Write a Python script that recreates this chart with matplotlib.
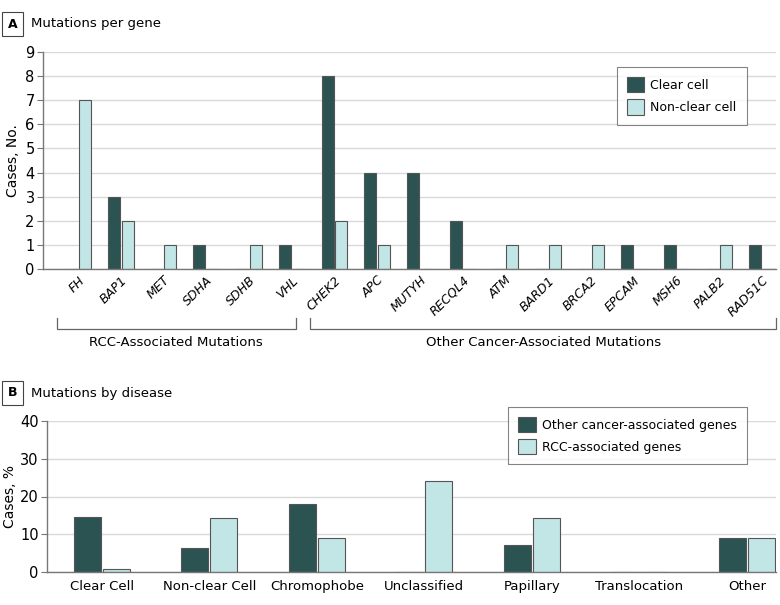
"""
Germline mutations: per gene (A) and by disease subtype (B).
"""
import numpy as np
import matplotlib.pyplot as plt

plt.rcParams['font.family'] = ['DejaVu Sans']

DARK = "#2b5352"
LIGHT = "#c2e5e5"
EDGE = "#555555"
GRID = "#d9d9d9"
AXIS = "#777777"

# ---- panel A data
genes = ["FH", "BAP1", "MET", "SDHA", "SDHB", "VHL", "CHEK2", "APC", "MUTYH",
         "RECQL4", "ATM", "BARD1", "BRCA2", "EPCAM", "MSH6", "PALB2", "RAD51C"]
clear_cell = [0, 3, 0, 1, 0, 1, 8, 4, 4, 2, 0, 0, 0, 1, 1, 0, 1]
non_clear_cell = [7, 2, 1, 0, 1, 0, 2, 1, 0, 0, 1, 1, 1, 0, 0, 1, 0]

# ---- panel B data
diseases = ["Clear Cell", "Non-clear Cell", "Chromophobe", "Unclassified",
            "Papillary", "Translocation", "Other"]
other_cancer_genes = [14.6, 6.4, 18.1, 0, 7.1, 0, 9.0]
rcc_genes = [0.9, 14.3, 9.0, 24.2, 14.2, 0, 9.0]

fig = plt.figure(figsize=(7.8, 6.05), dpi=100)


def style_axes(ax):
    for s in ["top", "right"]:
        ax.spines[s].set_visible(False)
    for s in ["left", "bottom"]:
        ax.spines[s].set_color(AXIS)
        ax.spines[s].set_linewidth(1.0)
    ax.yaxis.grid(True, color=GRID, linewidth=1.0)
    ax.set_axisbelow(True)
    ax.tick_params(axis="y", length=4, color=AXIS, labelsize=10.5, pad=2)
    ax.tick_params(axis="x", length=0)


def panel_label(y, letter, title):
    fig.text(12.5 / 780, y, letter, fontsize=9, fontweight="bold", ha="center", va="center",
             bbox=dict(boxstyle="square,pad=0.45", fc="white", ec="#444444", lw=0.8))
    fig.text(31 / 780, y, title, fontsize=9.5, ha="left", va="center")


def make_legend(ax, anchor):
    leg = ax.legend(loc="upper right", bbox_to_anchor=anchor, borderaxespad=0, fontsize=9,
                    frameon=True, fancybox=False, edgecolor="#666666",
                    handlelength=1.4, handleheight=1.5, borderpad=0.8, labelspacing=0.55,
                    handletextpad=0.5)
    leg.get_frame().set_linewidth(0.8)


# ---------------- Panel A
axA = fig.add_axes([43 / 780, 1 - 269 / 605, 733 / 780, 217 / 605])
x = np.arange(len(genes))
w = 0.28
axA.bar(x - 0.16, clear_cell, w, color=DARK, edgecolor=EDGE, linewidth=0.8, label="Clear cell")
axA.bar(x + 0.16, non_clear_cell, w, color=LIGHT, edgecolor=EDGE, linewidth=0.8, label="Non-clear cell")
axA.set_xlim(-0.82, 16.33)
axA.set_ylim(0, 9)
axA.set_yticks(range(0, 10))
axA.set_xticks(x)
axA.set_xticklabels(genes, rotation=45, ha="right", rotation_mode="anchor",
                    fontstyle="italic", fontsize=9)
axA.set_ylabel("Cases, No.", fontsize=10, labelpad=4)
style_axes(axA)
make_legend(axA, (0.96, 0.93))

# brackets under gene groups
trans = axA.get_xaxis_transform()
for x0, x1, name in [(-0.5, 5.1, "RCC-Associated Mutations"),
                     (5.43, 16.33, "Other Cancer-Associated Mutations")]:
    yt, yb = -0.225, -0.276
    axA.plot([x0, x0, x1, x1], [yt, yb, yb, yt], color="#666666", lw=0.9,
             transform=trans, clip_on=False)
    axA.text((x0 + x1) / 2, -0.34, name, transform=trans, ha="center", va="center",
             fontsize=9.5)

panel_label(1 - 24 / 605, "A", "Mutations per gene")

# ---------------- Panel B
axB = fig.add_axes([47 / 780, 1 - 572 / 605, 729 / 780, 151 / 605])
xb = np.arange(len(diseases))
wb = 0.25
axB.bar(xb - 0.135, other_cancer_genes, wb, color=DARK, edgecolor=EDGE, linewidth=0.8,
        label="Other cancer-associated genes")
axB.bar(xb + 0.135, rcc_genes, wb, color=LIGHT, edgecolor=EDGE, linewidth=0.8,
        label="RCC-associated genes")
axB.set_xlim(-0.51, 6.27)
axB.set_ylim(0, 40)
axB.set_yticks([0, 10, 20, 30, 40])
axB.set_xticks(xb)
axB.set_xticklabels(diseases, fontsize=9.5)
axB.tick_params(axis="x", pad=6)
axB.set_ylabel("Cases, %", fontsize=10, labelpad=2)
style_axes(axB)
make_legend(axB, (0.96, 1.093))

panel_label(1 - 393 / 605, "B", "Mutations by disease")

fig.savefig("out.png", dpi=100)
